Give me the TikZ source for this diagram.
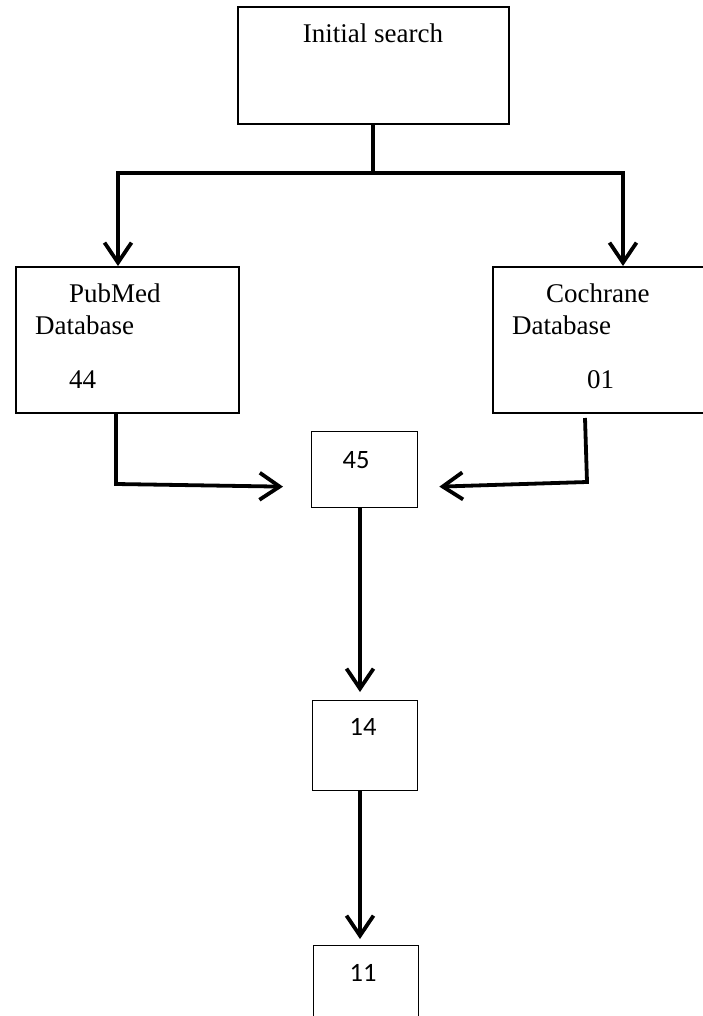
\documentclass[tikz,border=0pt]{standalone}
\usepackage{fontspec}
\setmainfont{Liberation Serif}
\newfontfamily\numfont{Carlito}
\usetikzlibrary{positioning,arrows.meta,calc}

\begin{document}
\begin{tikzpicture}[
    x=1pt, y=-1pt,
    block/.style={rectangle, draw, line width=1.6pt, inner sep=0pt, anchor=north west},
    txt/.style={anchor=base west, inner sep=0pt, font=\fontsize{27}{32}\selectfont},
    num/.style={anchor=base, inner sep=0pt, font=\numfont\fontsize{26.5}{32}\selectfont},
    conn/.style={line width=3.8pt},
    arrow/.style={line width=3.8pt, -{Straight Barb[length=20pt, width=27pt]}}
]
\useasboundingbox[fill=white] (0,0) rectangle (703,1016);

% Blocks
\node[block, minimum width=271pt, minimum height=117pt] (initial) at (237,6) {};
\node[block, minimum width=223pt, minimum height=146pt] (pubmed) at (15,266) {};
\node[block, minimum width=220pt, minimum height=146pt] (cochrane) at (492,266) {};
\node[block, minimum width=106pt, minimum height=76pt, line width=1.3pt] (n45) at (311,431) {};
\node[block, minimum width=105pt, minimum height=90pt, line width=1.3pt] (n14) at (312,700) {};
\node[block, minimum width=105pt, minimum height=90pt, line width=1.3pt] (n11) at (313,945) {};

% Texts
\node[txt, anchor=base] (initialtxt) at (373,43) {Initial search};
\node[txt] (pubmedtxt) at (69,302) {PubMed};
\node[txt] (pubmeddb) at (35,334) {Database};
\node[txt] (pubmednum) at (69,388) {44};
\node[txt] (cochranetxt) at (546,302) {Cochrane};
\node[txt] (cochranedb) at (512,334) {Database};
\node[txt] (cochranenum) at (587,388) {01};
\node[num] (t45) at (356,468) {45};
\node[num] (t14) at (363,735) {14};
\node[num] (t11) at (363,981) {11};

% Split
\coordinate (lsplit) at (118,173);
\coordinate (rsplit) at (623,173);
\draw[conn] (initial.south) -- (initial.south |- lsplit);
\draw[arrow] (initial.south |- lsplit) -- (lsplit) -- (lsplit |- pubmed.north);
\draw[arrow] (initial.south |- rsplit) -- (rsplit) -- (rsplit |- cochrane.north);

% Merge
\coordinate (lbend) at (116,484);
\coordinate (rtop) at (585,418);
\coordinate (rbend) at (587,482);
\draw[arrow] (lbend |- pubmed.south) -- (lbend) -- ([xshift=-28pt, yshift=-17pt]n45.west);
\draw[arrow] (rtop) -- (rbend) -- ([xshift=21pt, yshift=-17pt]n45.east);

% Down
\draw[arrow] (n45.south -| 360,0) -- ([yshift=8pt]n14.north -| 360,0);
\draw[arrow] (n14.south -| 360,0) -- ([yshift=6pt]n11.north -| 360,0);

\end{tikzpicture}
\end{document}
